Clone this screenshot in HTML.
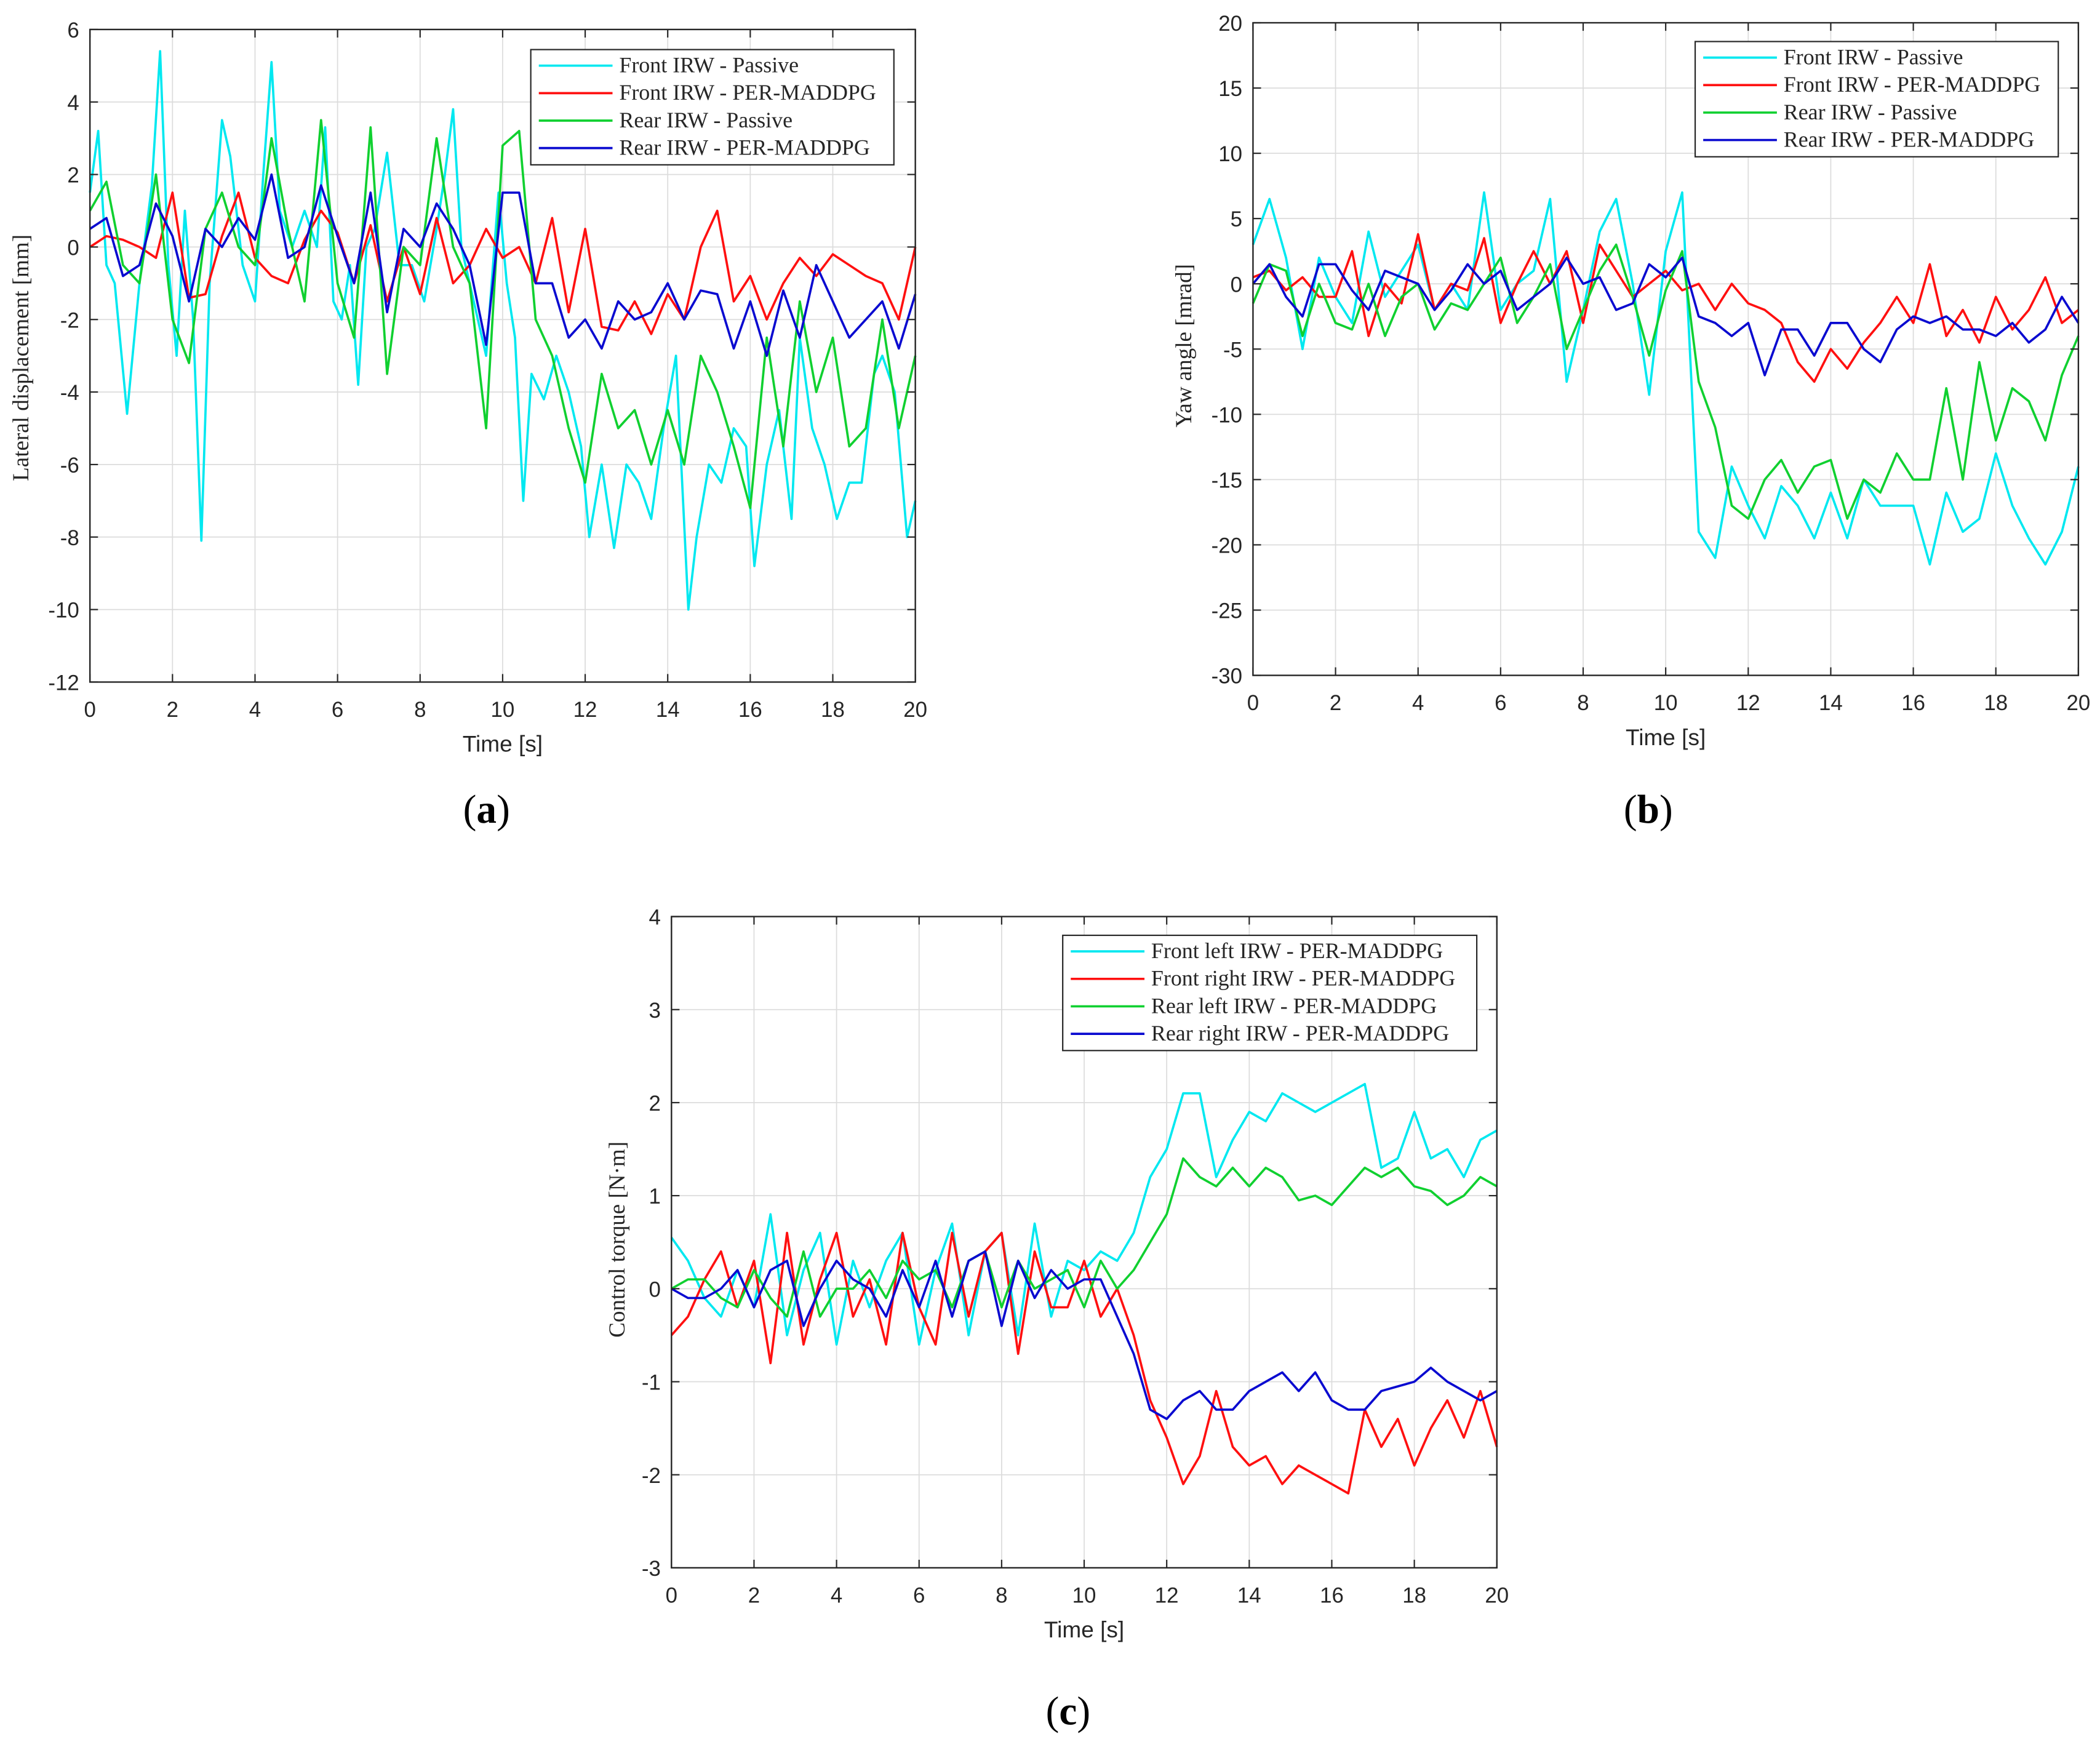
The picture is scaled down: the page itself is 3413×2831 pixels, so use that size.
<!DOCTYPE html>
<html><head><meta charset="utf-8"><style>
html,body{margin:0;padding:0;background:#fff}
svg{display:block}
</style></head><body>
<svg id="fig" xmlns="http://www.w3.org/2000/svg" width="3413" height="2831" viewBox="0 0 1567 1300"></svg>
<script>
// ---------- Data ----------
const xTicks=[0,2,4,6,8,10,12,14,16,18,20];
const yTicksA=[6,4,2,0,-2,-4,-6,-8,-10,-12];
const yTicksB=[20,15,10,5,0,-5,-10,-15,-20,-25,-30];
const yTicksC=[4,3,2,1,0,-1,-2,-3];
const dt=0.4;
// (a) front passive (irregular sampling)
const aCyanT=[0,0.2,0.4,0.6,0.9,1.2,1.5,1.7,1.9,2.1,2.3,2.5,2.7,2.9,3.2,3.4,3.7,4.0,4.2,4.4,4.6,4.9,5.2,5.5,5.7,5.9,6.1,6.3,6.5,6.7,6.9,7.2,7.5,7.8,8.1,8.4,8.6,8.8,9.0,9.3,9.6,9.9,10.1,10.3,10.5,10.7,11.0,11.3,11.6,11.9,12.1,12.4,12.7,13.0,13.3,13.6,13.9,14.2,14.5,14.7,15.0,15.3,15.6,15.9,16.1,16.4,16.7,17.0,17.2,17.5,17.8,18.1,18.4,18.7,19.0,19.2,19.5,19.8,20];
const aCyanV=[1.5,3.2,-0.5,-1,-4.6,-1,1.7,5.4,-0.5,-3,1,-2,-8.1,-1,3.5,2.5,-0.5,-1.5,2,5.1,1,0,1,0,3.3,-1.5,-2,-0.5,-3.8,0,0.5,2.6,-0.5,-0.5,-1.5,0.5,2,3.8,0,-1.5,-3,1.5,-1,-2.5,-7,-3.5,-4.2,-3,-4,-5.5,-8,-6,-8.3,-6,-6.5,-7.5,-5,-3,-10,-8,-6,-6.5,-5,-5.5,-8.8,-6,-4.5,-7.5,-2.5,-5,-6,-7.5,-6.5,-6.5,-3.5,-3,-4,-8,-7];
const aRed=[0,0.3,0.2,0,-0.3,1.5,-1.4,-1.3,0.3,1.5,-0.3,-0.8,-1,0.2,1,0.4,-1,0.6,-1.5,0,-1.3,0.8,-1,-0.5,0.5,-0.3,0,-1,0.8,-1.8,0.5,-2.2,-2.3,-1.5,-2.4,-1.3,-2,0,1,-1.5,-0.8,-2,-1,-0.3,-0.8,-0.2,-0.5,-0.8,-1,-2,0];
const aGreen=[1,1.8,-0.5,-1,2,-2,-3.2,0.5,1.5,0,-0.5,3,0.5,-1.5,3.5,-1,-2.5,3.3,-3.5,0,-0.5,3,0,-1,-5,2.8,3.2,-2,-3,-5,-6.5,-3.5,-5,-4.5,-6,-4.5,-6,-3,-4,-5.5,-7.2,-2.5,-5.5,-1.5,-4,-2.5,-5.5,-5,-2,-5,-3];
const aBlue=[0.5,0.8,-0.8,-0.5,1.2,0.3,-1.5,0.5,0,0.8,0.2,2,-0.3,0,1.7,0.3,-1,1.5,-1.8,0.5,0,1.2,0.5,-0.5,-2.7,1.5,1.5,-1,-1,-2.5,-2,-2.8,-1.5,-2,-1.8,-1,-2,-1.2,-1.3,-2.8,-1.5,-3,-1.2,-2.5,-0.5,-1.5,-2.5,-2,-1.5,-2.8,-1.3];
// (b)
const bCyan=[3,6.5,2,-5,2,-1,-3,4,-1,1,3,-2,0,-2,7,-2,0,1,6.5,-7.5,-2,4,6.5,0,-8.5,2.5,7,-19,-21,-14,-17,-19.5,-15.5,-17,-19.5,-16,-19.5,-15,-17,-17,-17,-21.5,-16,-19,-18,-13,-17,-19.5,-21.5,-19,-14];
const bRed=[0.5,1,-0.5,0.5,-1,-1,2.5,-4,0,-1.5,3.8,-2,0,-0.5,3.5,-3,0,2.5,0,2.5,-3,3,1,-1,0,1,-0.5,0,-2,0,-1.5,-2,-3,-6,-7.5,-5,-6.5,-4.5,-3,-1,-3,1.5,-4,-2,-4.5,-1,-3.5,-2,0.5,-3,-2];
const bGreen=[-1.5,1.5,1,-4,0,-3,-3.5,0,-4,-1,0,-3.5,-1.5,-2,0,2,-3,-1,1.5,-5,-2,1,3,-1,-5.5,-0.5,2.5,-7.5,-11,-17,-18,-15,-13.5,-16,-14,-13.5,-18,-15,-16,-13,-15,-15,-8,-15,-6,-12,-8,-9,-12,-7,-4];
const bBlue=[0,1.5,-1,-2.5,1.5,1.5,-0.5,-2,1,0.5,0,-2,-0.5,1.5,0,1,-2,-1,0,2,0,0.5,-2,-1.5,1.5,0.5,2,-2.5,-3,-4,-3,-7,-3.5,-3.5,-5.5,-3,-3,-5,-6,-3.5,-2.5,-3,-2.5,-3.5,-3.5,-4,-3,-4.5,-3.5,-1,-3];
// (c)
const cCyan=[0.55,0.3,-0.1,-0.3,0.2,-0.2,0.8,-0.5,0.2,0.6,-0.6,0.3,-0.2,0.3,0.6,-0.6,0.2,0.7,-0.5,0.4,0.6,-0.5,0.7,-0.3,0.3,0.2,0.4,0.3,0.6,1.2,1.5,2.1,2.1,1.2,1.6,1.9,1.8,2.1,2.0,1.9,2.0,2.1,2.2,1.3,1.4,1.9,1.4,1.5,1.2,1.6,1.7];
const cRed=[-0.5,-0.3,0.1,0.4,-0.2,0.3,-0.8,0.6,-0.6,0.1,0.6,-0.3,0.1,-0.6,0.6,-0.2,-0.6,0.6,-0.3,0.4,0.6,-0.7,0.4,-0.2,-0.2,0.3,-0.3,0,-0.5,-1.2,-1.6,-2.1,-1.8,-1.1,-1.7,-1.9,-1.8,-2.1,-1.9,-2.0,-2.1,-2.2,-1.3,-1.7,-1.4,-1.9,-1.5,-1.2,-1.6,-1.1,-1.7];
const cGreen=[0,0.1,0.1,-0.1,-0.2,0.2,-0.1,-0.3,0.4,-0.3,0,0,0.2,-0.1,0.3,0.1,0.2,-0.2,0.3,0.4,-0.2,0.3,0,0.1,0.2,-0.2,0.3,0,0.2,0.5,0.8,1.4,1.2,1.1,1.3,1.1,1.3,1.2,0.95,1.0,0.9,1.1,1.3,1.2,1.3,1.1,1.05,0.9,1.0,1.2,1.1];
const cBlue=[0,-0.1,-0.1,0,0.2,-0.2,0.2,0.3,-0.4,0,0.3,0.1,0,-0.3,0.2,-0.2,0.3,-0.3,0.3,0.4,-0.4,0.3,-0.1,0.2,0,0.1,0.1,-0.3,-0.7,-1.3,-1.4,-1.2,-1.1,-1.3,-1.3,-1.1,-1.0,-0.9,-1.1,-0.9,-1.2,-1.3,-1.3,-1.1,-1.05,-1.0,-0.85,-1.0,-1.1,-1.2,-1.1];

const legAB=["Front IRW - Passive","Front IRW - PER-MADDPG","Rear IRW - Passive","Rear IRW - PER-MADDPG"];
const legC=["Front left IRW - PER-MADDPG","Front right IRW - PER-MADDPG","Rear left IRW - PER-MADDPG","Rear right IRW - PER-MADDPG"];
const COLORS=["#00e8f0","#ff1010","#10d030","#0a0ad0"];

// ---------- Drawing ----------
const NS="http://www.w3.org/2000/svg";
const svg=document.getElementById('fig');
function mk(tag,attrs,parent,text){const e=document.createElementNS(NS,tag);for(const k in attrs)e.setAttribute(k,attrs[k]);if(text!==undefined)e.textContent=text;(parent||svg).appendChild(e);return e;}
function uniformT(vals){return vals.map((v,i)=>i*dt);}

function drawPanel(cfg){
  const g=mk('g',{});
  
  
  const L=cfg.L,R=cfg.R,T=cfg.T,B=cfg.B;
  const ymax=cfg.yt[0],ymin=cfg.yt[cfg.yt.length-1];
  const sx=t=>L+(t-0)/(20-0)*(R-L);
  const sy=v=>T+(ymax-v)/(ymax-ymin)*(B-T);
  const grid=mk('g',{},g);
  
  
  xTicks.forEach(t=>{mk('line',{x1:sx(t),x2:sx(t),y1:T,y2:B,stroke:'#dcdcdc','stroke-width':0.8},grid);});
  cfg.yt.forEach(v=>{mk('line',{x1:L,x2:R,y1:sy(v),y2:sy(v),stroke:'#dcdcdc','stroke-width':0.8},grid);});
  cfg.series.forEach((s,i)=>{
    const ts=s.t,vs=s.v;const n=Math.min(ts.length,vs.length);
    let pts=[];for(let k=0;k<n;k++)pts.push(sx(ts[k]).toFixed(2)+','+sy(vs[k]).toFixed(2));
    const p=mk('polyline',{points:pts.join(' '),fill:'none',stroke:COLORS[i],'stroke-width':1.7,'stroke-linejoin':'round'},g);
    
    
  });
  const box=mk('rect',{x:L,y:T,width:R-L,height:B-T,fill:'none',stroke:'#262626','stroke-width':1.1},g);
  
  
  xTicks.forEach(t=>{mk('line',{x1:sx(t),x2:sx(t),y1:B,y2:B-6,stroke:'#262626','stroke-width':1},g);mk('line',{x1:sx(t),x2:sx(t),y1:T,y2:T+6,stroke:'#262626','stroke-width':1},g);
    const tl=mk('text',{x:sx(t),y:B+26,'text-anchor':'middle','font-family':'Liberation Sans, sans-serif','font-size':16,fill:'#262626'},g,String(t));
    
    
  });
  cfg.yt.forEach(v=>{mk('line',{x1:L,x2:L+6,y1:sy(v),y2:sy(v),stroke:'#262626','stroke-width':1},g);mk('line',{x1:R,x2:R-6,y1:sy(v),y2:sy(v),stroke:'#262626','stroke-width':1},g);
    const tl=mk('text',{x:L-8,y:sy(v)+6,'text-anchor':'end','font-family':'Liberation Sans, sans-serif','font-size':16,fill:'#262626'},g,String(v));
    
    
  });
  const xt=mk('text',{x:(L+R)/2,y:B+52,'text-anchor':'middle','font-family':'Liberation Sans, sans-serif','font-size':17,fill:'#262626'},g,'Time [s]');
  
  
  const yt=mk('text',{x:0,y:0,'text-anchor':'middle','font-family':'Liberation Serif, serif','font-size':17,fill:'#262626',transform:`translate(${cfg.ylx},${cfg.yly}) rotate(-90)`},g,cfg.ylabel);
  
  
  const lg=mk('g',{},g);
  
  
  mk('rect',{x:cfg.lx,y:cfg.ly,width:cfg.lw,height:86,fill:'#fff',stroke:'#262626','stroke-width':1},lg);
  cfg.leg.forEach((name,i)=>{
    const yy=cfg.ly+12+i*20.5;
    mk('line',{x1:cfg.lx+6,x2:cfg.lx+61,y1:yy,y2:yy,stroke:COLORS[i],'stroke-width':1.7},lg);
    const te=mk('text',{x:cfg.lx+66,y:yy+5,'font-family':'Liberation Serif, serif','font-size':16.5,fill:'#262626'},lg,name);
    
    
  });
  const pl=mk('text',{x:cfg.px,y:cfg.py,'text-anchor':'middle','font-family':'Liberation Serif, serif','font-size':30,fill:'#000'},g);
  
  
  mk('tspan',{},pl,'(');mk('tspan',{'font-weight':'bold'},pl,cfg.plabel);mk('tspan',{},pl,')');
}

drawPanel({name:'chart-a',L:67,R:683,T:22,B:509,yt:yTicksA,ylabel:'Lateral displacement [mm]',ylx:21,yly:267,
  lx:396,ly:37,lw:271,leg:legAB,px:363,py:614,plabel:'a',
  series:[{t:aCyanT,v:aCyanV},{t:uniformT(aRed),v:aRed},{t:uniformT(aGreen),v:aGreen},{t:uniformT(aBlue),v:aBlue}]});
drawPanel({name:'chart-b',L:935,R:1551,T:17,B:504,yt:yTicksB,ylabel:'Yaw angle [mrad]',ylx:889,yly:258,
  lx:1265,ly:31,lw:271,leg:legAB,px:1230,py:614,plabel:'b',
  series:[{t:uniformT(bCyan),v:bCyan},{t:uniformT(bRed),v:bRed},{t:uniformT(bGreen),v:bGreen},{t:uniformT(bBlue),v:bBlue}]});
drawPanel({name:'chart-c',L:501,R:1117,T:684,B:1170,yt:yTicksC,ylabel:'Control torque [N·m]',ylx:466,yly:925,
  lx:793,ly:698,lw:309,leg:legC,px:797,py:1287,plabel:'c',
  series:[{t:uniformT(cCyan),v:cCyan},{t:uniformT(cRed),v:cRed},{t:uniformT(cGreen),v:cGreen},{t:uniformT(cBlue),v:cBlue}]});
</script>
</body></html>
